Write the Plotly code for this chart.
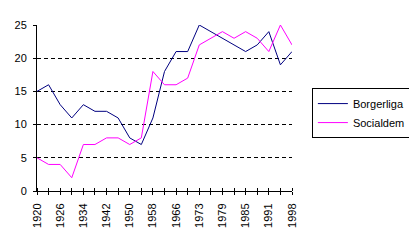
import plotly.graph_objects as go

# 23 elections; only every other one is labelled on the axis
tick_labels = ["1920", "", "1926", "", "1934", "", "1942", "", "1950", "", "1958", "",
               "1966", "", "1973", "", "1979", "", "1985", "", "1991", "", "1998"]
x_idx = list(range(len(tick_labels)))

borgerliga = [15, 16, 13, 11, 13, 12, 12, 11, 8, 7, 11, 18, 21, 21, 25, 24, 23, 22, 21, 22, 24, 19, 21]
socialdem = [5, 4, 4, 2, 7, 7, 8, 8, 7, 8, 18, 16, 16, 17, 22, 23, 24, 23, 24, 23, 21, 25, 22]

y_ticks = [0, 5, 10, 15, 20, 25]
grid_values = [5, 10, 15, 20]

font = dict(family="Liberation Sans, Arial, sans-serif", size=11, color="black")

fig = go.Figure()
fig.add_trace(go.Scatter(x=x_idx, y=borgerliga, mode="lines", name="Borgerliga",
                         line=dict(color="#000080", width=1)))
fig.add_trace(go.Scatter(x=x_idx, y=socialdem, mode="lines", name="Socialdem",
                         line=dict(color="#FF00FF", width=1)))

fig.update_layout(
    width=409, height=240,
    margin=dict(l=37, r=117, t=25, b=49, pad=0, autoexpand=False),
    paper_bgcolor="white", plot_bgcolor="white",
    font=font,
    showlegend=True,
    legend=dict(x=1.078, y=0.62, xanchor="left", yanchor="top",
                bordercolor="black", borderwidth=1, bgcolor="white",
                font=font, itemwidth=30, tracegroupgap=0),
)
fig.update_xaxes(
    range=[0, 22], tickmode="array", tickvals=x_idx, ticktext=tick_labels,
    tickangle=-90, ticks="outside", ticklen=3, tickcolor="black",
    showline=True, linecolor="black", linewidth=1, showgrid=False, zeroline=False,
    minor=dict(ticks="inside", ticklen=3, tickcolor="black", dtick=1, tick0=0, showgrid=False),
    tickfont=font, fixedrange=True, ticklabelstandoff=4,
)
fig.update_yaxes(
    range=[0, 25], tickmode="array", tickvals=y_ticks, ticks="outside", ticklen=3,
    tickcolor="black", showline=True, linecolor="black", linewidth=1,
    showgrid=False, zeroline=False,
    minor=dict(tickmode="array", tickvals=grid_values, ticks="", showgrid=True,
               gridcolor="black", griddash="4px,3px", gridwidth=1),
    tickfont=font, fixedrange=True, ticklabelstandoff=4,
)

fig.write_html("out.html")
